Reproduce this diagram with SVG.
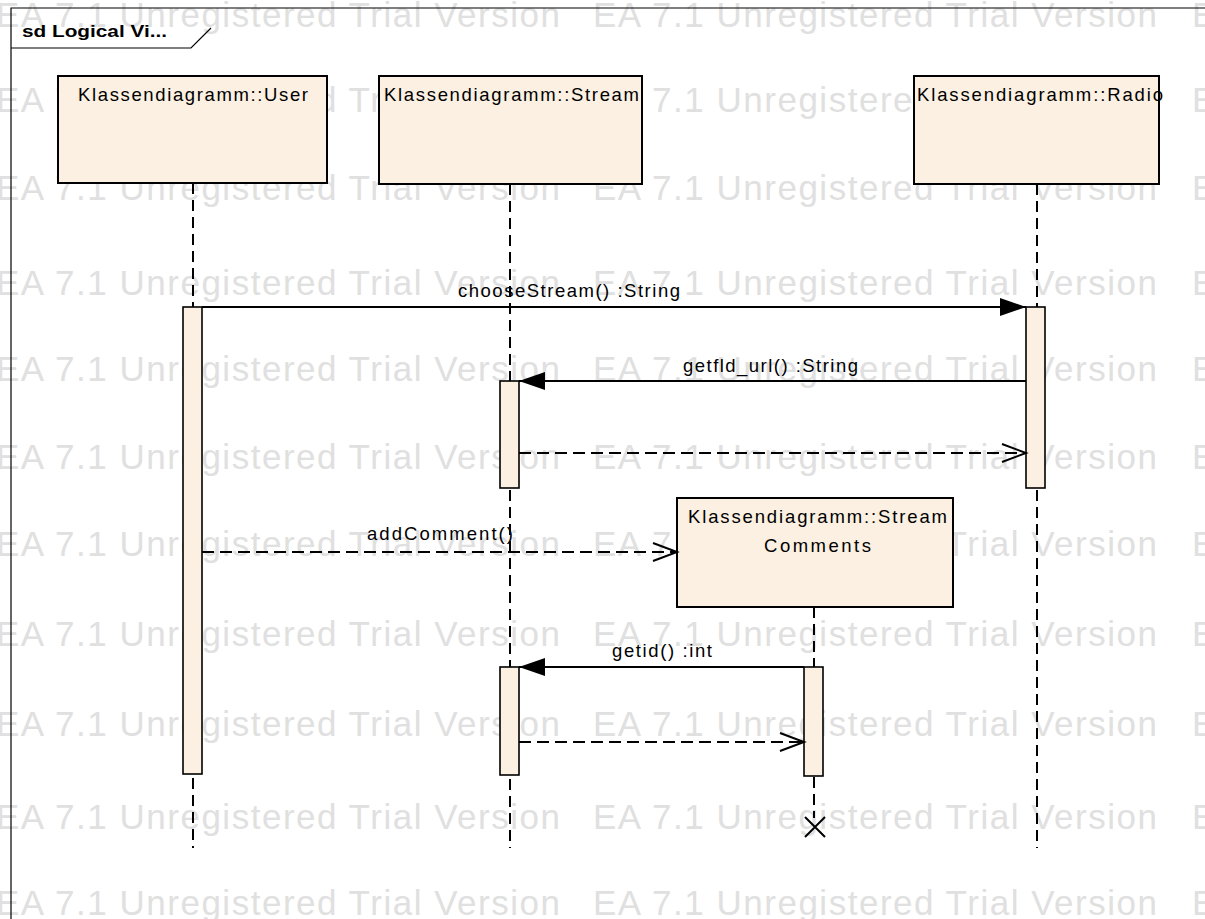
<svg xmlns="http://www.w3.org/2000/svg" xmlns:xlink="http://www.w3.org/1999/xlink" width="1205" height="919" viewBox="0 0 1205 919" overflow="hidden">
<style>
.wm{font-family:"Liberation Sans",Arial,sans-serif;font-size:35px;fill:#e0e0e0}
.lbl{font-family:"Liberation Sans",Arial,sans-serif;font-size:18.5px;fill:#000}
.ttl{font-family:"Liberation Sans",Arial,sans-serif;font-size:17px;font-weight:bold;fill:#000}
.head{fill:#fbf0e2;stroke:#000;stroke-width:2}
.act{fill:#fbf0e2;stroke:#000;stroke-width:1.6}
.life{stroke:#000;stroke-width:2;stroke-dasharray:11 6;fill:none}
.msg{stroke:#000;stroke-width:2;fill:none}
.ret{stroke:#000;stroke-width:2;stroke-dasharray:12 6;fill:none}
.frame{stroke:#000;stroke-width:1.2;fill:none}
</style>
<defs>
<clipPath id="page"><rect x="0" y="0" width="1205" height="919"/></clipPath>
<text id="wm" class="wm" textLength="564" lengthAdjust="spacing">EA 7.1 Unregistered Trial Version</text>
<text id="wmE" class="wm">E</text>
<g id="wmrow"><use xlink:href="#wm" x="-4"/><use xlink:href="#wm" x="593"/><use xlink:href="#wmE" x="1192"/></g>
<marker id="filled" markerUnits="userSpaceOnUse" markerWidth="27" markerHeight="19" refX="26" refY="9" orient="auto" overflow="visible"><path d="M0,0 L26,9 L0,18 Z" fill="#000"/></marker>
<marker id="open" markerUnits="userSpaceOnUse" markerWidth="25" markerHeight="19" refX="24" refY="9" orient="auto" overflow="visible"><path d="M0,0 L24,9 L0,18" fill="none" stroke="#000" stroke-width="2"/></marker>
</defs>
<rect width="1205" height="919" fill="#fff"/>
<g id="watermark" clip-path="url(#page)">
<use xlink:href="#wmrow" y="27"/><use xlink:href="#wmrow" y="112"/><use xlink:href="#wmrow" y="200"/><use xlink:href="#wmrow" y="295"/><use xlink:href="#wmrow" y="381"/><use xlink:href="#wmrow" y="469"/><use xlink:href="#wmrow" y="556"/><use xlink:href="#wmrow" y="646"/><use xlink:href="#wmrow" y="736"/><use xlink:href="#wmrow" y="829"/><use xlink:href="#wmrow" y="915"/>
</g>
<g id="frame">
<path class="frame" d="M11,919 L11,8 L1205,8"/>
<path class="frame" d="M11,48 L191,48 L211,28"/>
<text class="ttl" x="22" y="37" textLength="145" lengthAdjust="spacingAndGlyphs">sd Logical Vi...</text>
</g>
<g id="lifelines">
<line class="life" x1="193" y1="183" x2="193" y2="848"/>
<line class="life" x1="510" y1="184" x2="510" y2="848"/>
<line class="life" x1="1037" y1="184" x2="1037" y2="848"/>
<line class="life" x1="814" y1="607" x2="814" y2="818"/>
</g>
<g id="user">
<rect class="head" x="58" y="76" width="269" height="107"/>
<text class="lbl" x="78" y="101" textLength="230" lengthAdjust="spacing">Klassendiagramm::User</text>
<rect class="act" x="183" y="307" width="19" height="467"/>
</g>
<g id="stream">
<rect class="head" x="379" y="76" width="263" height="108"/>
<text class="lbl" x="384" y="101" textLength="255" lengthAdjust="spacing">Klassendiagramm::Stream</text>
<rect class="act" x="500" y="381" width="19" height="107"/>
<rect class="act" x="500" y="667" width="19" height="108"/>
</g>
<g id="radio">
<rect class="head" x="914" y="76" width="245" height="108"/>
<text class="lbl" x="917" y="101" textLength="246" lengthAdjust="spacing">Klassendiagramm::Radio</text>
<rect class="act" x="1026" y="307" width="19" height="181"/>
</g>
<g id="streamcomments">
<rect class="head" x="677" y="498" width="276" height="109"/>
<text class="lbl" x="688" y="523" textLength="259" lengthAdjust="spacing">Klassendiagramm::Stream</text>
<text class="lbl" x="764" y="552" textLength="107" lengthAdjust="spacing">Comments</text>
<rect class="act" x="804" y="667" width="19" height="109"/>
<path d="M805,817 L825,837 M805,837 L825,817" stroke="#000" stroke-width="2"/>
</g>
<g id="connectors">
<line class="msg" x1="202" y1="307" x2="1026" y2="307" marker-end="url(#filled)"/>
<text class="lbl" x="458" y="297" textLength="222" lengthAdjust="spacing">chooseStream() :String</text>
<line class="msg" x1="1026" y1="381" x2="519" y2="381" marker-end="url(#filled)"/>
<text class="lbl" x="683" y="372" textLength="175" lengthAdjust="spacing">getfld_url() :String</text>
<line class="ret" x1="519" y1="453" x2="1026" y2="453" marker-end="url(#open)"/>
<line class="ret" x1="202" y1="552" x2="677" y2="552" marker-end="url(#open)"/>
<text class="lbl" x="367" y="540" textLength="146" lengthAdjust="spacing">addComment()</text>
<line class="msg" x1="804" y1="667" x2="519" y2="667" marker-end="url(#filled)"/>
<text class="lbl" x="612" y="657" textLength="100" lengthAdjust="spacing">getid() :int</text>
<line class="ret" x1="519" y1="742" x2="804" y2="742" marker-end="url(#open)"/>
</g>
</svg>
